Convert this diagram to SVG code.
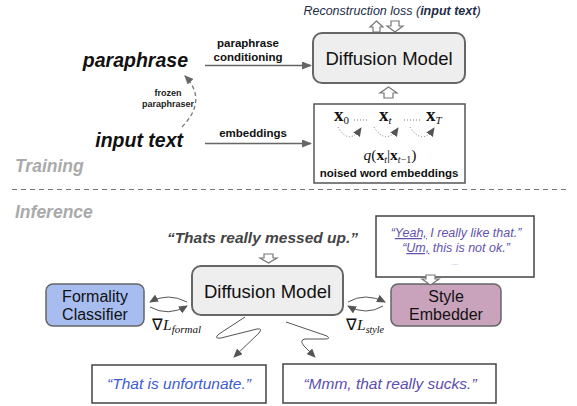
<svg xmlns="http://www.w3.org/2000/svg" width="577" height="406" viewBox="0 0 577 406">
<defs>
<style>
.sans{font-family:"Liberation Sans",Arial,sans-serif}
.serif{font-family:"Liberation Serif","Times New Roman",serif}
.box{fill:#eeeeee;stroke:#666;stroke-width:2}
.frame{fill:#fff;stroke:#555;stroke-width:1.5}
.hollow{fill:#fff;stroke:#777;stroke-width:1.2}
.conn{fill:none;stroke:#666;stroke-width:1.5}
.thin{fill:none;stroke:#555;stroke-width:1}
.dot{fill:none;stroke:#777;stroke-width:1;stroke-dasharray:1,2}
</style>
<marker id="ah" markerUnits="userSpaceOnUse" markerWidth="10" markerHeight="8" refX="9" refY="4" orient="auto"><path d="M0,0 L10,4 L0,8 z" fill="#666"/></marker>
<marker id="ahs" markerUnits="userSpaceOnUse" markerWidth="9" markerHeight="8" refX="8" refY="4" orient="auto"><path d="M0,0 L9,4 L0,8 z" fill="#555"/></marker>
<marker id="ahd" markerUnits="userSpaceOnUse" markerWidth="9" markerHeight="8" refX="8" refY="4" orient="auto"><path d="M0,0 L9,4 L0,8 z" fill="#666"/></marker>
</defs>

<!-- Training section -->
<text class="sans" x="392" y="15" font-size="12.5" font-style="italic" fill="#232c48" text-anchor="middle">Reconstruction loss (<tspan font-weight="bold">input text</tspan>)</text>

<g id="loss-arrows">
<polygon class="hollow" points="376.5,21 383,27 380,27 380,32 373,32 373,27 370,27"/>
<polygon class="hollow" points="391,21 399,21 399,26 403,26 395,32 387,26 391,26"/>
</g>

<g id="diffusion-train">
<rect class="box" x="313" y="33" width="152" height="50" rx="9"/>
<text class="sans" x="389" y="65" font-size="18.5" text-anchor="middle" fill="#111">Diffusion Model</text>
</g>

<g id="up-arrow-train">
<polygon class="hollow" points="388.5,87 397,93 393,93 393,98 384,98 384,93 380,93"/>
</g>

<g id="noised">
<rect class="frame" x="314" y="104" width="151" height="79" fill="#fff"/>
<text class="serif" x="334" y="121" font-size="19" font-weight="bold" fill="#111">x<tspan font-weight="normal" font-size="11" dy="3">0</tspan></text>
<text class="serif" x="379" y="121" font-size="19" font-weight="bold" fill="#111">x<tspan font-weight="normal" font-style="italic" font-size="11" dy="3">t</tspan></text>
<text class="serif" x="426" y="121" font-size="19" font-weight="bold" fill="#111">x<tspan font-weight="normal" font-style="italic" font-size="11" dy="3">T</tspan></text>
<path class="dot" d="M354,120 H368 M404,120 H422"/>
<path class="dot" d="M338,127 Q349,146 361,128" marker-end="url(#ahs)"/>
<path class="dot" d="M374,127 Q386,146 398,128" marker-end="url(#ahs)"/>
<path class="dot" d="M410,127 Q422,146 434,128" marker-end="url(#ahs)"/>
<text class="serif" x="390" y="160" font-size="15.5" fill="#111" text-anchor="middle"><tspan font-style="italic">q</tspan>(<tspan font-weight="bold">x</tspan><tspan font-style="italic" font-size="10" dy="3">t</tspan><tspan dy="-3">|</tspan><tspan font-weight="bold">x</tspan><tspan font-style="italic" font-size="10" dy="3">t</tspan><tspan font-size="10">−1</tspan><tspan dy="-3">)</tspan></text>
<text class="sans" x="389" y="177" font-size="11.5" font-weight="bold" text-anchor="middle" fill="#111">noised word embeddings</text>
</g>

<g id="paraphrase">
<text class="sans" x="188" y="67" font-size="19.5" font-weight="bold" font-style="italic" text-anchor="end" fill="#111">paraphrase</text>
</g>
<g id="input-text">
<text class="sans" x="183" y="147" font-size="19.5" font-weight="bold" font-style="italic" text-anchor="end" fill="#111">input text</text>
</g>

<g id="connectors-train">
<path class="conn" d="M205,65.5 H311" marker-end="url(#ah)"/>
<path class="conn" d="M205,143.5 H311" marker-end="url(#ah)"/>
<path fill="none" stroke="#777" stroke-width="1.3" stroke-dasharray="4,3" d="M182,127 Q208,100 185,76" marker-end="url(#ahd)"/>
<text class="sans" x="248" y="47" font-size="11.5" font-weight="bold" text-anchor="middle" fill="#111">paraphrase</text>
<text class="sans" x="248" y="61" font-size="11.5" font-weight="bold" text-anchor="middle" fill="#111">conditioning</text>
<text class="sans" x="253" y="137" font-size="11.5" font-weight="bold" text-anchor="middle" fill="#111">embeddings</text>
<text class="sans" x="168" y="96" font-size="9" font-weight="bold" text-anchor="middle" fill="#222">frozen</text>
<text class="sans" x="168" y="107" font-size="9" font-weight="bold" text-anchor="middle" fill="#222">paraphraser</text>
</g>

<text class="sans" x="15" y="172" font-size="17.5" font-weight="bold" font-style="italic" fill="#aaaaaa">Training</text>
<line x1="12" y1="189.5" x2="567" y2="189.5" stroke="#777" stroke-width="1" stroke-dasharray="5,4"/>
<text class="sans" x="15" y="218" font-size="17.5" font-weight="bold" font-style="italic" fill="#aaaaaa">Inference</text>

<!-- Inference section -->
<text class="sans" x="262.5" y="243" font-size="15.5" font-weight="bold" font-style="italic" text-anchor="middle" fill="#444">“Thats really messed up.”</text>
<g id="down-arrow-inf">
<polygon class="hollow" points="264,254 273,254 273,258 277,258 268.5,263 260,258 264,258"/>
</g>

<g id="diffusion-inf">
<rect class="box" x="192" y="266" width="151" height="49" rx="9"/>
<text class="sans" x="267.5" y="298" font-size="18.5" text-anchor="middle" fill="#111">Diffusion Model</text>
</g>

<g id="formality">
<rect x="46" y="284" width="98" height="42" rx="7" fill="#a7bdf0" stroke="#666" stroke-width="1.5"/>
<text class="sans" x="95" y="302" font-size="16" text-anchor="middle" fill="#111">Formality</text>
<text class="sans" x="95" y="320" font-size="16" text-anchor="middle" fill="#111">Classifier</text>
</g>

<g id="style-embedder">
<rect x="391" y="284" width="110" height="42" rx="7" fill="#c9a3bc" stroke="#666" stroke-width="1.5"/>
<text class="sans" x="446" y="302" font-size="16" text-anchor="middle" fill="#111">Style</text>
<text class="sans" x="446" y="320" font-size="16" text-anchor="middle" fill="#111">Embedder</text>
</g>

<g id="examples">
<rect x="376" y="216" width="158" height="61" fill="#fff" stroke="#444" stroke-width="1.5"/>
<text class="sans" x="456" y="237" font-size="12.5" font-style="italic" text-anchor="middle" fill="#6253b0">“<tspan text-decoration="underline">Yeah,</tspan> I really like that.”</text>
<text class="sans" x="456" y="252" font-size="12.5" font-style="italic" text-anchor="middle" fill="#6253b0">“<tspan text-decoration="underline">Um,</tspan> this is not ok.”</text>
<text class="sans" x="455" y="265" font-size="8" text-anchor="middle" fill="#9a8fcf">...</text>
</g>
<g id="examples-arrow">
<polygon class="hollow" points="426,275 435,275 435,279 439,279 430.5,285 422,279 426,279"/>
</g>

<g id="out-formal">
<rect x="92" y="365" width="174" height="38" fill="#fff" stroke="#444" stroke-width="1.5"/>
<text class="sans" x="179" y="389" font-size="15.5" font-style="italic" text-anchor="middle" fill="#3d5bd2">“That is unfortunate.”</text>
</g>
<g id="out-style">
<rect x="283" y="364" width="213" height="39" fill="#fff" stroke="#444" stroke-width="1.5"/>
<text class="sans" x="390" y="389" font-size="15.5" font-style="italic" text-anchor="middle" fill="#5b4cb0">“Mmm, that really sucks.”</text>
</g>

<g id="connectors-inf">
<path class="thin" d="M187,302 Q168,292 150,302" marker-end="url(#ahs)"/>
<path class="thin" d="M150,307 Q168,317 187,306" marker-end="url(#ahs)"/>
<path class="thin" d="M348,302 Q365,292 385,302" marker-end="url(#ahs)"/>
<path class="thin" d="M383,306 Q366,316 348,306" marker-end="url(#ahs)"/>
<path class="thin" d="M245,317 L219,334 Q213,339 221,338 L257,329 Q263,328 259,333 L234,357" marker-end="url(#ahs)"/>
<path class="thin" d="M286,322 L327,336 Q331,339 325,339 L305,339 Q299,340 304,346 L315,357" marker-end="url(#ahs)"/>
<text class="serif" x="152" y="330" font-size="15.5" fill="#111">∇<tspan font-style="italic">L</tspan><tspan font-style="italic" font-size="11" dy="3">formal</tspan></text>
<text class="serif" x="346" y="330" font-size="15.5" fill="#111">∇<tspan font-style="italic">L</tspan><tspan font-style="italic" font-size="10" dy="3">style</tspan></text>
</g>
</svg>
